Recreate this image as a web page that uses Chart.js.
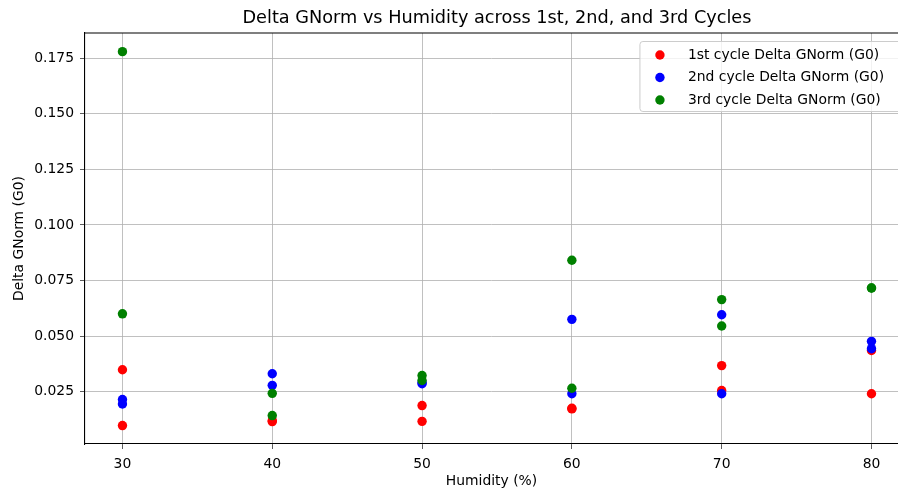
<!DOCTYPE html>
<html>
<head>
<meta charset="utf-8">
<script src="https://cdn.jsdelivr.net/npm/chart.js@4.4.1/dist/chart.umd.min.js"></script>
<style>
  html, body { margin: 0; padding: 0; background: #fff; }
  #wrap { width: 898px; height: 491px; }
</style>
</head>
<body>
<div id="wrap"><canvas id="chart" width="898" height="491"></canvas></div>
<script>
const humidity = [30, 30, 40, 40, 50, 50, 60, 60, 70, 70, 80, 80];
const cycle1 = [0.0348, 0.0097, 0.0119, 0.0115, 0.0187, 0.0116, 0.0175, 0.0172, 0.0367, 0.0255, 0.0435, 0.0240];
const cycle2 = [0.0214, 0.0194, 0.0330, 0.0278, 0.0285, 0.0290, 0.0575, 0.0240, 0.0596, 0.0240, 0.0476, 0.0443];
const cycle3 = [0.1780, 0.0600, 0.0242, 0.0142, 0.0322, 0.0300, 0.0841, 0.0265, 0.0664, 0.0545, 0.0716, 0.0716];
const seriesLabels = ['1st cycle Delta GNorm (G0)', '2nd cycle Delta GNorm (G0)', '3rd cycle Delta GNorm (G0)'];
const seriesColors = ['#ff0000', '#0000ff', '#008000'];
const xTicks = [30, 40, 50, 60, 70, 80];
const yTicks = [0.025, 0.050, 0.075, 0.100, 0.125, 0.150, 0.175];
const chartTitle = 'Delta GNorm vs Humidity across 1st, 2nd, and 3rd Cycles';

const FONT = 'DejaVu Sans';
const R = 4.7;
Chart.defaults.color = '#000';
Chart.defaults.font.family = FONT;

function toPoints(ys) {
    return ys.map((y, i) => ({ x: humidity[i], y: y }));
}

const datasets = [cycle1, cycle2, cycle3].map((vals, i) => ({
    label: seriesLabels[i],
    data: toPoints(vals),
    backgroundColor: seriesColors[i],
    borderColor: seriesColors[i],
    borderWidth: 0,
    pointRadius: R,
    order: 2 - i
}));

// title centred on the full axes (which run past the right edge), top spine, legend box
const framePlugin = {
    id: 'frame',
    afterDatasetsDraw(chart) {
        const ctx = chart.ctx, a = chart.chartArea;
        ctx.save();
        ctx.strokeStyle = '#000';
        ctx.lineWidth = 1.1;
        ctx.beginPath();
        ctx.moveTo(a.left, a.top);
        ctx.lineTo(a.right, a.top);
        ctx.stroke();

        const xs = chart.scales.x;
        const axesRight = xs.getPixelForValue(82.5);
        ctx.fillStyle = '#000';
        ctx.font = '17.7px "' + FONT + '"';
        ctx.textAlign = 'center';
        ctx.textBaseline = 'middle';
        ctx.fillText(chartTitle, (a.left + axesRight) / 2, 18.5);

        const left = axesRight - 269, top = a.top + 8.5, w = 262, h = 70;
        ctx.fillStyle = 'rgba(255,255,255,0.8)';
        ctx.strokeStyle = '#cccccc';
        ctx.lineWidth = 1;
        ctx.beginPath();
        ctx.roundRect(left, top, w, h, 3);
        ctx.fill();
        ctx.stroke();

        ctx.font = '13.9px "' + FONT + '"';
        ctx.textAlign = 'left';
        chart.data.datasets.forEach((ds, i) => {
            const cy = top + 13.5 + i * 22.5;
            ctx.fillStyle = ds.backgroundColor;
            ctx.beginPath();
            ctx.arc(left + 20, cy, R, 0, Math.PI * 2);
            ctx.fill();
            ctx.fillStyle = '#000';
            ctx.fillText(ds.label, left + 48, cy);
        });
        ctx.restore();
    }
};

new Chart(document.getElementById('chart').getContext('2d'), {
    type: 'scatter',
    data: { datasets: datasets },
    options: {
        responsive: false,
        animation: false,
        layout: { autoPadding: false, padding: { left: 0, right: 0, top: 33, bottom: 0 } },
        plugins: {
            legend: { display: false },
            tooltip: { enabled: false },
            title: { display: false }
        },
        scales: {
            x: {
                type: 'linear',
                min: 27.5,
                max: 81.77,
                afterBuildTicks: s => { s.ticks = xTicks.map(v => ({ value: v })); },
                afterFit: s => { s.height = 47; s.paddingRight = 0; s.paddingLeft = 0; },
                ticks: { font: { size: 13.9 }, color: '#000', padding: 7, maxRotation: 0 },
                grid: { color: '#b0b0b0', lineWidth: 0.8, tickLength: 5, tickColor: '#333', drawOnChartArea: true },
                border: { color: '#000', width: 1.1 },
                title: {
                    display: true,
                    text: 'Humidity (%)',
                    font: { size: 13.9 },
                    color: '#000',
                    padding: { top: 0, bottom: 1 }
                }
            },
            y: {
                type: 'linear',
                min: 0.0014,
                max: 0.1864,
                afterBuildTicks: s => { s.ticks = yTicks.map(v => ({ value: v })); },
                afterFit: s => { s.width = 85; },
                ticks: {
                    font: { size: 13.9 },
                    color: '#000',
                    padding: 6,
                    callback: v => Number(v).toFixed(3)
                },
                grid: { color: '#b0b0b0', lineWidth: 0.8, tickLength: 5, tickColor: '#333' },
                border: { color: '#000', width: 1.1 },
                title: {
                    display: true,
                    text: 'Delta GNorm (G0)',
                    font: { size: 13.9 },
                    color: '#000',
                    padding: { top: 11, bottom: 0 }
                }
            }
        }
    },
    plugins: [framePlugin]
});
</script>
</body>
</html>
